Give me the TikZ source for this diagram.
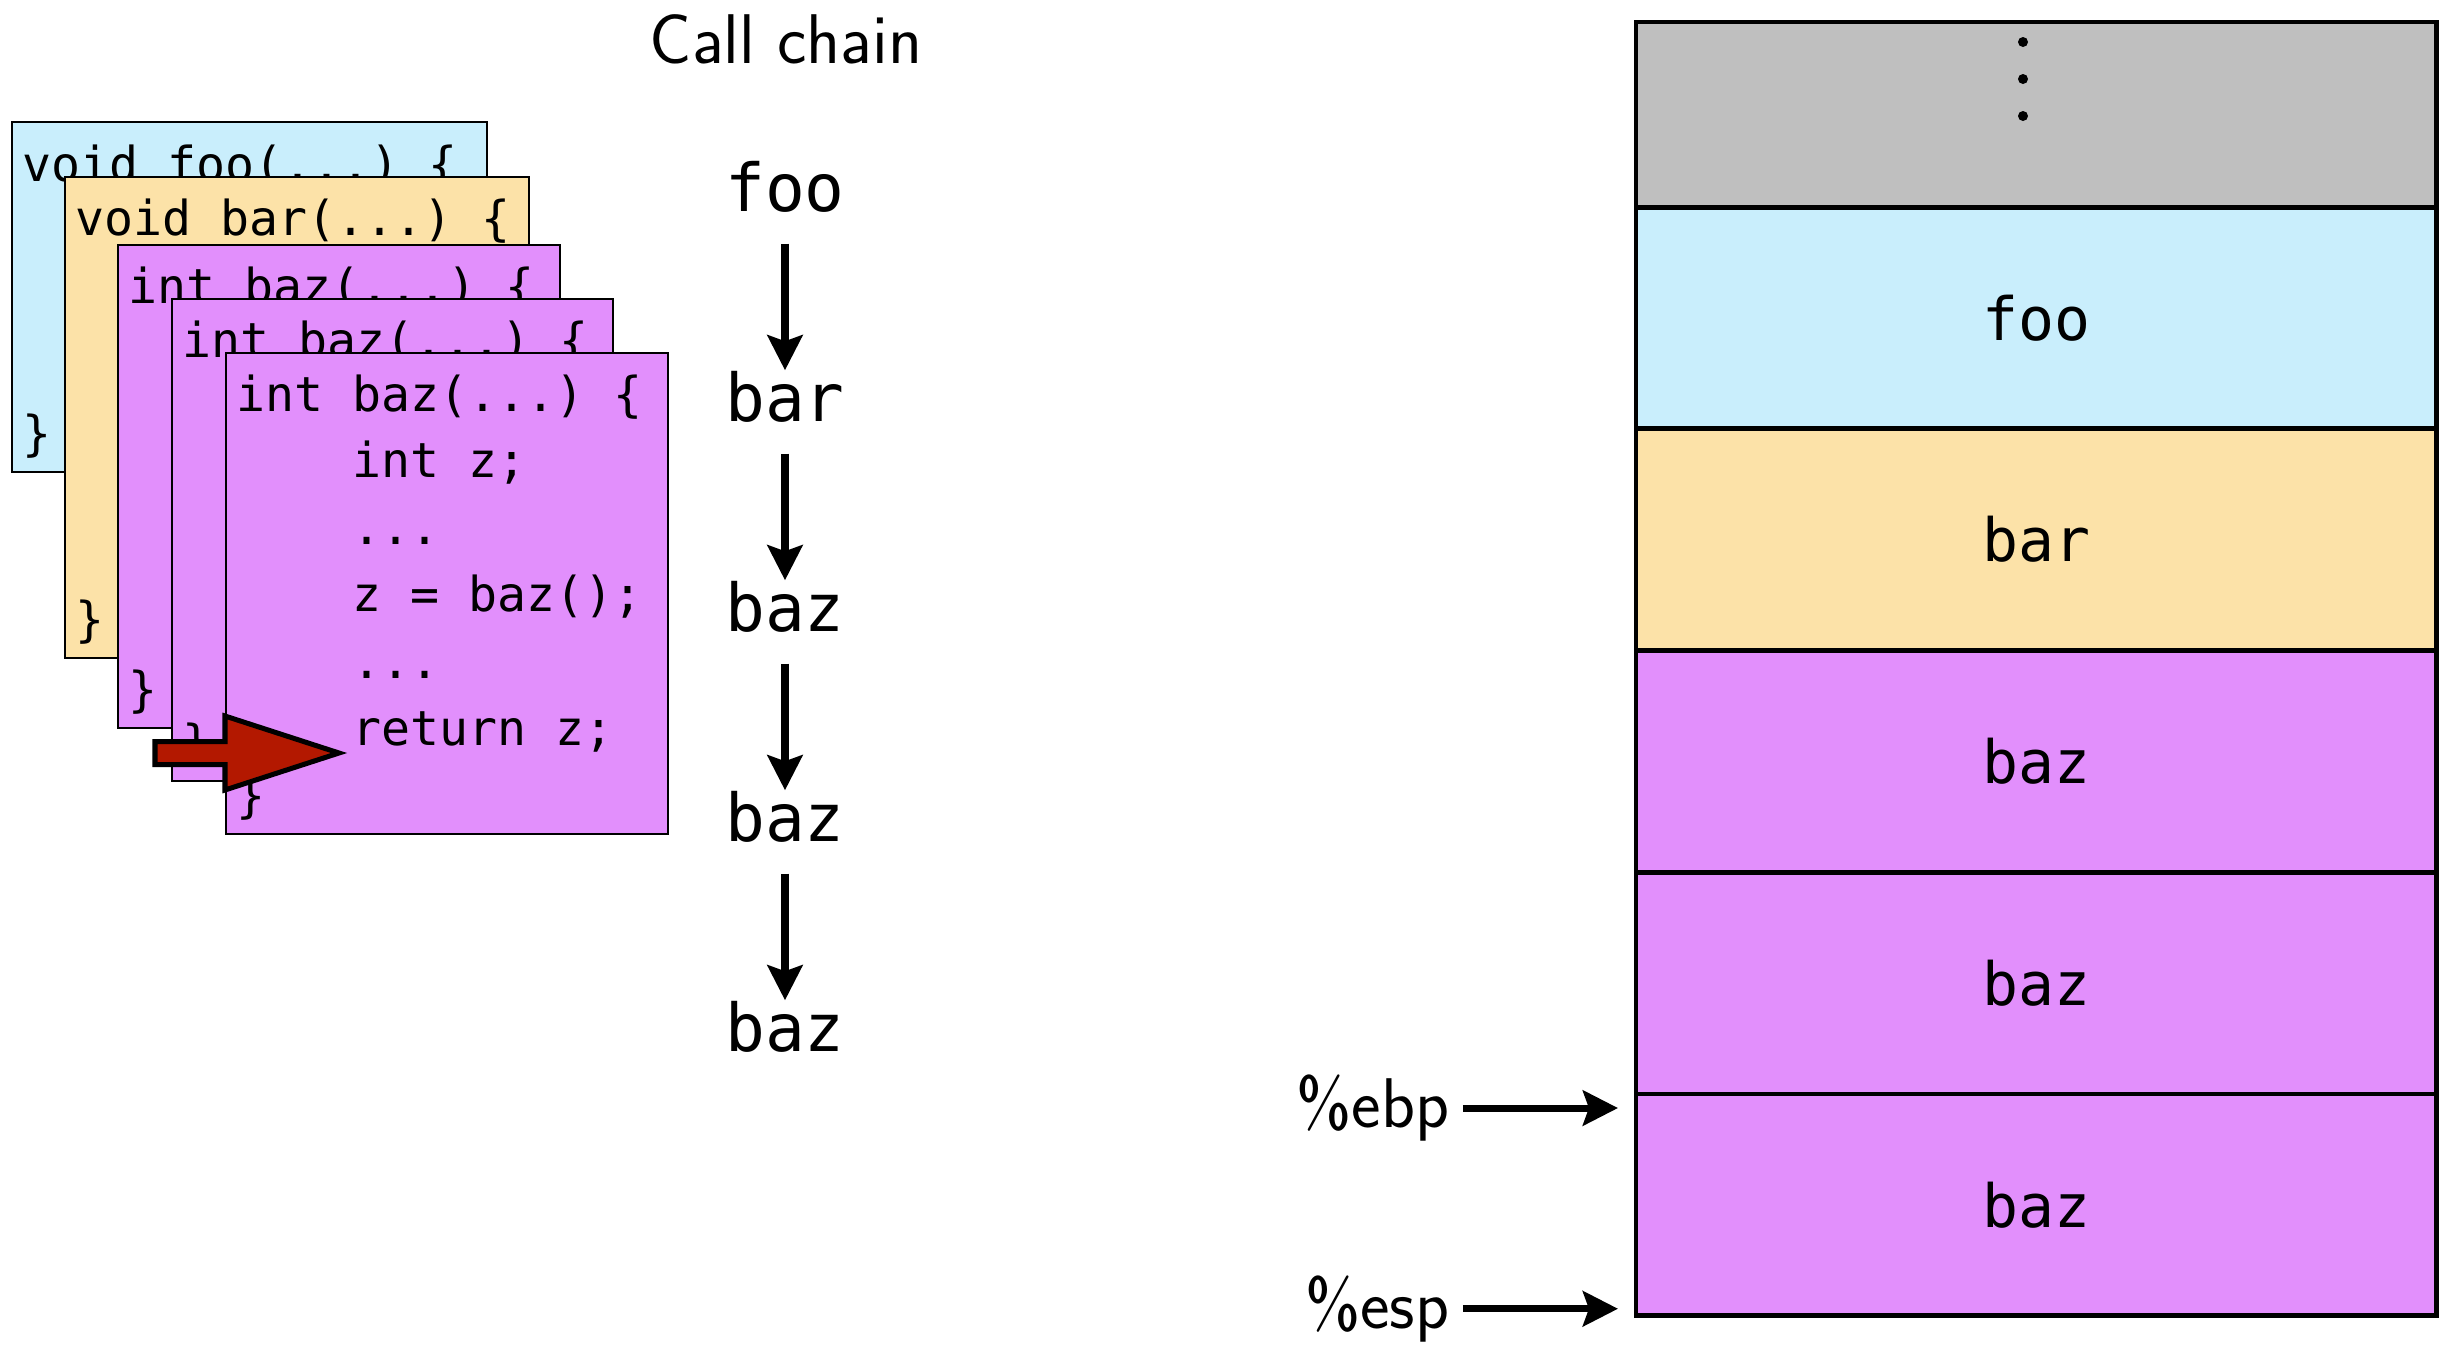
\documentclass[tikz,border=0pt]{standalone}
\usepackage{fontspec}
\usepackage{tikz}
\newfontfamily\codefont{DejaVu Sans Mono}
\usetikzlibrary{shapes, arrows.meta, positioning}
\definecolor{fooblue}{RGB}{201,238,252}
\definecolor{barpeach}{RGB}{252,226,168}
\definecolor{bazpurple}{RGB}{226,143,252}
\definecolor{stackgray}{RGB}{191,191,191}
\definecolor{callred}{RGB}{179,24,0}
\tikzstyle{codebox} = [draw, line width=0.6pt, rectangle, anchor=north west, inner sep=0, outer sep=0]
\tikzstyle{code} = [font=\codefont\fontsize{13.7}{16}\selectfont\frenchspacing, anchor=base west, inner sep=0]
\tikzstyle{callname} = [font=\codefont\fontsize{18.8}{22}\selectfont, anchor=base, inner sep=0, text height=0.5cm, text depth=0.32cm]
\tikzstyle{frame} = [draw, line width=1.4pt, rectangle, minimum width=8cm, minimum height=2.216cm, inner sep=0, outer sep=0, font=\codefont\fontsize{17}{20}\selectfont]
\tikzstyle{ptr} = [line width=2pt, -{Stealth[length=0.35cm, width=0.35cm, inset=0.06cm]}]
\tikzstyle{reg} = [font=\sffamily\fontsize{20}{24}\selectfont, inner sep=0]
\tikzstyle{bigarrow} = [draw, line width=0.05cm, fill=callred, miter limit=20]

\begin{document}
\begin{tikzpicture}[x=0.01cm, y=-0.01cm]
	\useasboundingbox (0,0) rectangle (2453,1345);

	% the pile of activation records, each one a code box
	\node[codebox, fill=fooblue, minimum width=4.75cm, minimum height=3.5cm] (boxfoo) at (12,122) {};
	\node[code] (hfoo) at ([xshift=0.1cm, yshift=-0.59cm]boxfoo.north west) {void foo(...) \{};
	\node[code] (efoo) at ([xshift=0.1cm, yshift=0.22cm]boxfoo.south west) {\}};

	\node[codebox, fill=barpeach, minimum width=4.64cm, minimum height=4.81cm] (boxbar) at (65,177) {};
	\node[code] (hbar) at ([xshift=0.1cm, yshift=-0.58cm]boxbar.north west) {void bar(...) \{};
	\node[code] (ebar) at ([xshift=0.1cm, yshift=0.22cm]boxbar.south west) {\}};

	\node[codebox, fill=bazpurple, minimum width=4.42cm, minimum height=4.83cm] (boxbaza) at (118,245) {};
	\node[code] (hbaza) at ([xshift=0.1cm, yshift=-0.58cm]boxbaza.north west) {int baz(...) \{};
	\node[code] (ebaza) at ([xshift=0.1cm, yshift=0.22cm]boxbaza.south west) {\}};

	\node[codebox, fill=bazpurple, minimum width=4.41cm, minimum height=4.82cm] (boxbazb) at (172,299) {};
	\node[code] (hbazb) at ([xshift=0.1cm, yshift=-0.58cm]boxbazb.north west) {int baz(...) \{};
	\node[code] (ebazb) at ([xshift=0.1cm, yshift=0.22cm]boxbazb.south west) {\}};

	\node[codebox, fill=bazpurple, minimum width=4.42cm, minimum height=4.81cm] (boxbazc) at (226,353) {};
	\node[code] (l1) at ([xshift=0.1cm, yshift=-0.58cm]boxbazc.north west) {int baz(...) \{};
	\node[code] (l2) at ([yshift=-0.668cm]l1.base west) {\hphantom{xxxx}int z;};
	\node[code] (l3) at ([yshift=-0.668cm]l2.base west) {\hphantom{xxxx}...};
	\node[code] (l4) at ([yshift=-0.668cm]l3.base west) {\hphantom{xxxx}z = baz();};
	\node[code] (l5) at ([yshift=-0.668cm]l4.base west) {\hphantom{xxxx}...};
	\node[code] (l6) at ([yshift=-0.668cm]l5.base west) {\hphantom{xxxx}return z;};
	\node[code] (l7) at ([yshift=-0.668cm]l6.base west) {\}};

	% current instruction
	\draw[bigarrow] (155,741.5) -- (225,741.5) -- (225,716) -- (339,753) -- (225,790) -- (225,764.5) -- (155,764.5) -- cycle;

	% call chain
	\node[reg, anchor=base] (title) at (786,63) {Call chain};
	\node[callname] (cfoo) at (785,211) {foo};
	\node[callname] (cbar) at (785,421) {bar};
	\node[callname] (cbaza) at (785,631) {baz};
	\node[callname] (cbazb) at (785,841) {baz};
	\node[callname] (cbazc) at (785,1051) {baz};
	\draw[ptr] (cfoo) -- (cbar);
	\draw[ptr] (cbar) -- (cbaza);
	\draw[ptr] (cbaza) -- (cbazb);
	\draw[ptr] (cbazb) -- (cbazc);

	% the stack
	\node[frame, fill=stackgray, minimum height=1.85cm, anchor=north west] (sdots) at (1636,22) {};
	\node[frame, fill=fooblue, below=0pt of sdots] (sfoo) {foo};
	\node[frame, fill=barpeach, below=0pt of sfoo] (sbar) {bar};
	\node[frame, fill=bazpurple, below=0pt of sbar] (sbaza) {baz};
	\node[frame, fill=bazpurple, below=0pt of sbaza] (sbazb) {baz};
	\node[frame, fill=bazpurple, below=0pt of sbazb] (sbazc) {baz};
	\fill (2023,42) circle (0.05cm);
	\fill (2023,79) circle (0.05cm);
	\fill (2023,116) circle (0.05cm);

	% registers
	\coordinate (ebpmark) at ([yshift=-0.14cm]sbazc.north west);
	\coordinate (espmark) at ([yshift=0.07cm]sbazc.south west);
	\node[reg, left=1.86cm of ebpmark] (ebp) {\%ebp};
	\node[reg, left=1.86cm of espmark] (esp) {\%esp};
	\draw[ptr, shorten <=0.13cm, shorten >=0.18cm] (ebp) -- (ebpmark);
	\draw[ptr, shorten <=0.13cm, shorten >=0.18cm] (esp) -- (espmark);
\end{tikzpicture}
\end{document}
